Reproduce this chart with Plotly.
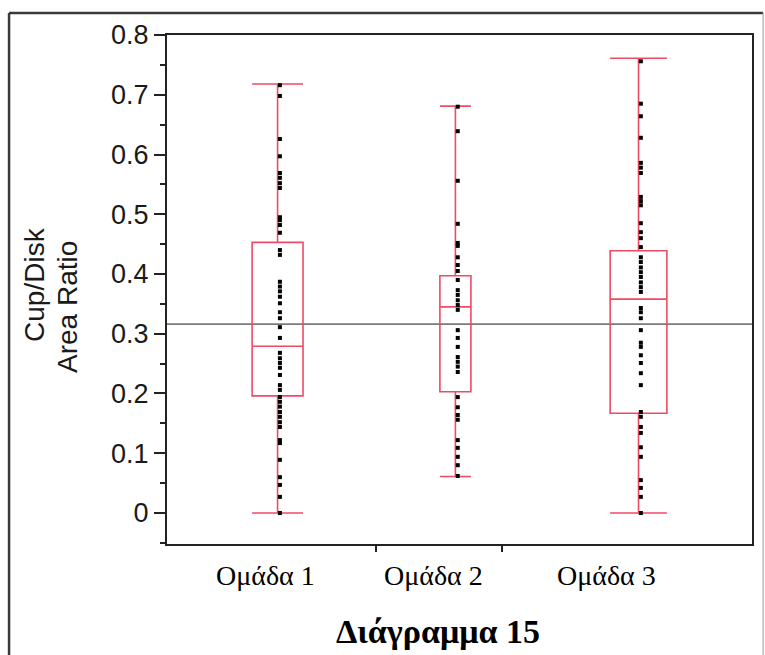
import plotly.graph_objects as go

# Group labels and summary statistics (Cup/Disk area ratio)
groups = ["Ομάδα 1", "Ομάδα 2", "Ομάδα 3"]
lower_whisker = [0.0, 0.061, 0.0]
q1 = [0.196, 0.203, 0.167]
median = [0.279, 0.345, 0.358]
q3 = [0.453, 0.397, 0.439]
upper_whisker = [0.718, 0.681, 0.761]
grand_mean = 0.316

# Individual observations per group
g1_values = [0.716, 0.698, 0.626, 0.597, 0.569, 0.561, 0.552, 0.544, 0.495, 0.490,
             0.482, 0.469, 0.440, 0.432, 0.387, 0.379, 0.371, 0.362, 0.351, 0.336,
             0.326, 0.311, 0.293, 0.268, 0.259, 0.251, 0.243, 0.231, 0.214, 0.206,
             0.194, 0.186, 0.178, 0.169, 0.161, 0.152, 0.144, 0.122, 0.117, 0.089,
             0.060, 0.047, 0.027, 0.0]
g2_values = [0.680, 0.639, 0.556, 0.484, 0.452, 0.447, 0.428, 0.415, 0.405, 0.390,
             0.373, 0.365, 0.356, 0.348, 0.340, 0.306, 0.293, 0.278, 0.261, 0.253,
             0.245, 0.236, 0.194, 0.177, 0.164, 0.156, 0.122, 0.109, 0.094, 0.080,
             0.062]
g3_values = [0.756, 0.685, 0.664, 0.628, 0.586, 0.578, 0.569, 0.529, 0.522, 0.515,
             0.485, 0.470, 0.460, 0.445, 0.428, 0.420, 0.411, 0.403, 0.395, 0.386,
             0.378, 0.370, 0.343, 0.336, 0.326, 0.306, 0.285, 0.278, 0.264, 0.251,
             0.234, 0.214, 0.169, 0.161, 0.144, 0.134, 0.110, 0.094, 0.055, 0.042,
             0.027, 0.0]
group_values = [g1_values, g2_values, g3_values]

y_ticks = [0, 0.1, 0.2, 0.3, 0.4, 0.5, 0.6, 0.7, 0.8]

# Layout geometry along a 0..1 horizontal scale
box_centers = [0.189, 0.493, 0.806]
box_widths = [0.087, 0.053, 0.097]
dot_offset = 0.004
group_bounds = [0.357, 0.573]
label_centers = [0.169, 0.456, 0.752]

BOX_COLOR = "#ef4a66"
INK = "#1a1a1a"

fig = go.Figure()

for i, name in enumerate(groups):
    fig.add_trace(go.Box(
        x=[box_centers[i]],
        q1=[q1[i]], median=[median[i]], q3=[q3[i]],
        lowerfence=[lower_whisker[i]], upperfence=[upper_whisker[i]],
        width=box_widths[i],
        whiskerwidth=1,
        boxpoints=False,
        fillcolor="rgba(0,0,0,0)",
        line=dict(color=BOX_COLOR, width=1.6),
        name=name,
        hoverinfo="skip",
    ))
    fig.add_trace(go.Scatter(
        x=[box_centers[i] + dot_offset] * len(group_values[i]),
        y=group_values[i],
        mode="markers",
        marker=dict(symbol="square", size=4, color="black", line=dict(width=0)),
        name=name,
        hoverinfo="skip",
    ))

# Invisible trace to carry the secondary x axis holding the group boundary ticks
fig.add_trace(go.Scatter(x=group_bounds, y=[None, None], xaxis="x2",
                         mode="markers", marker=dict(opacity=0), hoverinfo="skip"))

# Grand mean reference line
fig.add_shape(type="line", xref="paper", yref="y", x0=0, x1=1,
              y0=grand_mean, y1=grand_mean,
              line=dict(color="#7a7a7a", width=1.8), layer="below")

# Outer frame of the figure
fig.add_shape(type="line", xref="paper", yref="paper", x0=-0.270, x1=-0.270,
              y0=1.043, y1=-0.3, line=dict(color="#3a3a3a", width=2.5))
fig.add_shape(type="line", xref="paper", yref="paper", x0=-0.270, x1=1.019,
              y0=1.043, y1=1.043, line=dict(color="#3a3a3a", width=2.5))
fig.add_shape(type="line", xref="paper", yref="paper", x0=1.019, x1=1.019,
              y0=1.043, y1=-0.3, line=dict(color="#9a9a9a", width=1))

# Group labels below the axis
for i, name in enumerate(groups):
    fig.add_annotation(x=label_centers[i], y=-0.062, xref="x", yref="paper",
                       text=name, showarrow=False, xanchor="center", yanchor="middle",
                       font=dict(family="Liberation Serif", size=28, color="black"))

# Axis title (two rotated lines)
fig.add_annotation(x=-0.2256, y=0.509, xref="paper", yref="paper", text="Cup/Disk",
                   textangle=-90, showarrow=False, xanchor="center", yanchor="middle",
                   font=dict(family="Liberation Sans", size=28, color=INK))
fig.add_annotation(x=-0.171, y=0.4656, xref="paper", yref="paper", text="Area Ratio",
                   textangle=-90, showarrow=False, xanchor="center", yanchor="middle",
                   font=dict(family="Liberation Sans", size=28, color=INK))

# Chart caption
fig.add_annotation(x=0.463, y=-0.172, xref="paper", yref="paper",
                   text="<b>Διάγραμμα 15</b>", showarrow=False,
                   xanchor="center", yanchor="middle",
                   font=dict(family="Liberation Serif", size=34, color="black"))

fig.update_layout(
    width=765, height=655,
    margin=dict(l=167, r=13, t=35, b=111),
    paper_bgcolor="white", plot_bgcolor="white",
    showlegend=False,
    boxmode="overlay",
    xaxis=dict(range=[0, 1], showgrid=False, zeroline=False,
               showticklabels=False, ticks="",
               showline=True, mirror=True, linecolor="#222", linewidth=2),
    xaxis2=dict(range=[0, 1], overlaying="x", anchor="y", side="bottom",
                tickvals=group_bounds, ticktext=["", ""], ticks="outside",
                ticklen=7, tickwidth=2, tickcolor="#222",
                showgrid=False, zeroline=False, showline=False),
    yaxis=dict(range=[-0.0519, 0.8], tickvals=y_ticks,
               ticktext=[f"{v:g}" for v in y_ticks],
               ticks="outside", ticklen=11, tickwidth=2, tickcolor="#222",
               showgrid=False, zeroline=False,
               showline=True, mirror=True, linecolor="#222", linewidth=2,
               tickfont=dict(family="Liberation Sans", size=27, color=INK),
               minor=dict(dtick=0.05, tick0=0, ticks="outside", ticklen=5,
                          tickwidth=2, tickcolor="#222", showgrid=False)),
)

fig.write_html("out.html")
